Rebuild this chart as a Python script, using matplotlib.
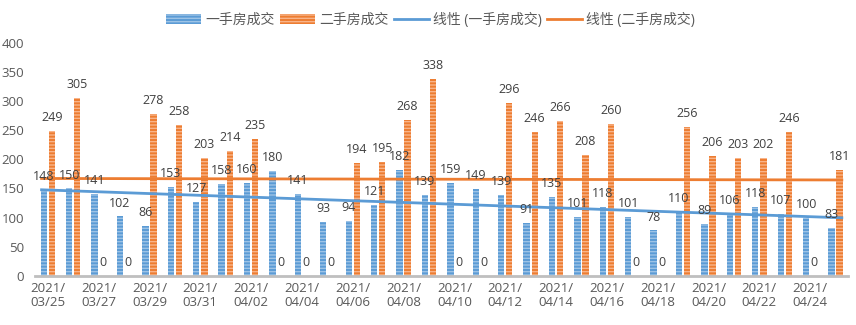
import matplotlib
matplotlib.use("Agg")
import matplotlib.pyplot as plt
import numpy as np
from matplotlib.patches import Patch
from matplotlib.lines import Line2D

plt.rcParams['font.family'] = ['Open Sans', 'Noto Sans CJK SC', 'DejaVu Sans']
plt.rcParams['hatch.linewidth'] = 1.0

dates = ["2021/03/25", "2021/03/26", "2021/03/27", "2021/03/28", "2021/03/29", "2021/03/30",
         "2021/03/31", "2021/04/01", "2021/04/02", "2021/04/03", "2021/04/04", "2021/04/05",
         "2021/04/06", "2021/04/07", "2021/04/08", "2021/04/09", "2021/04/10", "2021/04/11",
         "2021/04/12", "2021/04/13", "2021/04/14", "2021/04/15", "2021/04/16", "2021/04/17",
         "2021/04/18", "2021/04/19", "2021/04/20", "2021/04/21", "2021/04/22", "2021/04/23",
         "2021/04/24", "2021/04/25"]
new_home = [148, 150, 141, 102, 86, 153, 127, 158, 160, 180, 141, 93, 94, 121, 182, 139,
            159, 149, 139, 91, 135, 101, 118, 101, 78, 110, 89, 106, 118, 107, 100, 83]
second_home = [249, 305, 0, 0, 278, 258, 203, 214, 235, 0, 0, 0, 194, 195, 268, 338,
               0, 0, 296, 246, 266, 208, 260, 0, 0, 256, 206, 203, 202, 246, 0, 181]
series_names = ["一手房成交", "二手房成交"]
trend_names = ["线性 (一手房成交)", "线性 (二手房成交)"]

BLUE = "#5B9BD5"
BLUE_L = "#9DC3E6"
ORANGE = "#ED7D31"
ORANGE_L = "#F8B48A"
TXT = "#404040"

fig = plt.figure(figsize=(8.56, 3.25), dpi=100)
ax = fig.add_axes([0.041, 0.1508, 0.950, 0.7182])

x = np.arange(len(dates))
w = 0.25
off = 0.16
ax.bar(x - off, new_home, w, color=BLUE, edgecolor=BLUE_L, linewidth=0, hatch='-----')
ax.bar(x + off, second_home, w, color=ORANGE, edgecolor=ORANGE_L, linewidth=0, hatch='-----')

for xi, v in zip(x, new_home):
    ax.annotate(str(v), (xi - off, v), xytext=(0, 5), textcoords='offset points',
                ha='center', va='bottom', fontsize=9, color=TXT)
for xi, v in zip(x, second_home):
    ax.annotate(str(v), (xi + off, v), xytext=(0, 5), textcoords='offset points',
                ha='center', va='bottom', fontsize=9, color=TXT)

# linear trend lines
for vals, col in ((new_home, BLUE), (second_home, ORANGE)):
    k, b = np.polyfit(x, vals, 1)
    xs = np.array([x[0] - 0.3, x[-1] + 0.3])
    ax.plot(xs, k * xs + b, color=col, linewidth=2, solid_capstyle='butt')

ax.set_xlim(-0.5, len(dates) - 0.5)
ax.set_ylim(0, 400)
ax.set_yticks(range(0, 401, 50))
ax.set_xticks(x[::2])
ax.set_xticklabels([d[:5] + "\n" + d[5:] for d in dates[::2]], fontsize=9.5, color="#595959",
                   linespacing=1.15)
ax.tick_params(axis='y', labelsize=9.5, labelcolor="#595959", length=0, pad=8)
ax.tick_params(axis='x', length=0, pad=4)
for s in ['top', 'right', 'left']:
    ax.spines[s].set_visible(False)
ax.spines['bottom'].set_color("#BFBFBF")
ax.spines['bottom'].set_linewidth(2)

handles = [Patch(facecolor=BLUE, edgecolor=BLUE_L, linewidth=0, hatch='-----'),
           Patch(facecolor=ORANGE, edgecolor=ORANGE_L, linewidth=0, hatch='-----'),
           Line2D([], [], color=BLUE, linewidth=2),
           Line2D([], [], color=ORANGE, linewidth=2)]
fig.legend(handles, series_names + trend_names, loc='upper center', bbox_to_anchor=(0.503, 1.0),
           ncol=4, frameon=False, fontsize=10, handlelength=2.5, handletextpad=0.3,
           columnspacing=0.4, labelcolor="#595959")

fig.savefig("out.png", dpi=100)
